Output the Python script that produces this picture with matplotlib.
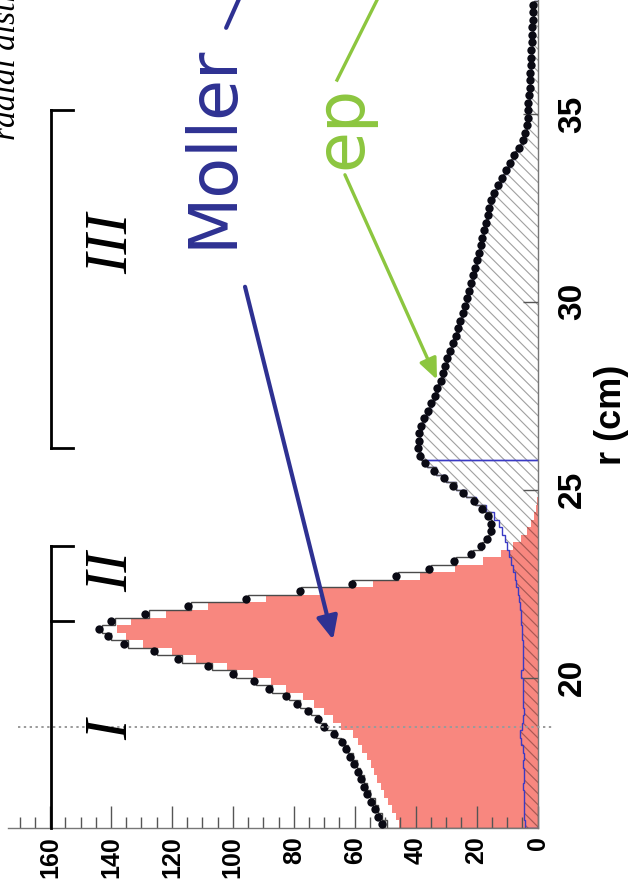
import matplotlib
matplotlib.use("Agg")
import matplotlib.pyplot as plt
import numpy as np
from matplotlib.ticker import MultipleLocator

# radial distribution, 0.2 cm bins from 16 to 38 cm
R_MIN, R_MAX, BIN_W = 16.0, 38.0, 0.2
R_SPLIT = 25.8  # inelastic / elastic ep boundary

data_counts = [
    51.0, 52.3, 53.5, 54.6, 55.9, 57.0, 58.0, 59.0, 60.2, 61.5,
    62.8, 64.3, 66.8, 70.0, 72.0, 75.2, 79.0, 82.5, 88.2, 93.1,
    100.1, 108.2, 117.9, 125.9, 135.7, 140.9, 143.8, 140.0, 128.8, 114.6,
    95.7, 77.8, 61.0, 46.3, 35.5, 27.3, 21.8, 18.6, 16.5, 15.3,
    15.2, 16.1, 18.2, 21.0, 24.5, 27.6, 30.6, 34.0, 37.0, 38.5,
    39.1, 39.0, 38.8, 38.1, 37.2, 36.0, 34.8, 33.8, 33.0, 31.8,
    30.9, 30.3, 29.6, 28.7, 27.8, 26.9, 26.1, 25.3, 24.5, 23.7,
    23.0, 22.4, 21.8, 21.1, 20.5, 19.9, 19.3, 18.7, 18.1, 17.6,
    17.0, 16.4, 15.8, 15.2, 14.2, 13.1, 11.6, 10.2, 9.0, 7.7,
    6.0, 4.8, 4.0, 3.5, 3.2, 3.0, 3.0, 2.8, 2.6, 2.5,
    2.3, 2.2, 2.1, 2.0, 1.9, 1.8, 1.7, 1.6, 1.5, 1.4,
]

# simulated Moller, bins below R_SPLIT
moller_counts = [
    45.3, 46.6, 47.8, 49.1, 50.4, 51.5, 52.6, 53.7, 54.8, 56.1,
    57.5, 59.0, 60.7, 64.5, 67.0, 70.0, 73.5, 77.0, 82.5, 87.5,
    93.5, 102.0, 112.0, 120.0, 129.5, 135.0, 138.0, 133.5, 122.0, 108.0,
    89.0, 71.0, 54.0, 38.5, 27.0, 18.0, 12.0, 8.2, 5.5, 3.6,
    2.2, 1.0, 0.5, 0.2, 0.0, 0.0, 0.0, 0.0, 0.0,
]

# simulated inelastic ep, bins below R_SPLIT
ep_inel_counts = [
    4.2, 4.3, 4.4, 4.3, 4.5, 4.6, 4.4, 4.5, 4.6, 4.5,
    4.7, 5.4, 5.6, 5.0, 4.6, 4.5, 4.6, 4.7, 4.6, 4.8,
    5.3, 4.9, 4.7, 4.8, 4.9, 5.0, 5.1, 5.3, 5.5, 5.8,
    6.1, 6.5, 7.0, 7.4, 8.0, 8.6, 9.3, 10.0, 10.8, 11.8,
    12.8, 14.2, 16.8, 20.2, 23.6, 26.8, 30.0, 33.4, 36.4,
]

# simulated elastic ep, bins above R_SPLIT
ep_el_counts = [
    38.2, 38.8, 38.7, 38.5, 37.8, 36.9, 35.7, 34.5, 33.5, 32.7,
    31.6, 30.7, 30.0, 29.3, 28.5, 27.6, 26.7, 25.9, 25.1, 24.3,
    23.5, 22.8, 22.2, 21.6, 20.9, 20.3, 19.7, 19.1, 18.5, 17.9,
    17.4, 16.8, 16.2, 15.6, 15.0, 14.0, 12.9, 11.4, 10.0, 8.8,
    7.5, 5.8, 4.6, 3.8, 3.3, 3.0, 2.8, 2.8, 2.6, 2.4,
    2.3, 2.1, 2.0, 1.9, 1.8, 1.7, 1.6, 1.5, 1.4, 1.3,
    1.2,
]

region_names = ["I", "II", "III"]
region_label_r = [18.62, 22.82, 31.56]
bracket_low = [16.0, 21.5, 23.5]   # regions I and II share one bracket
bracket_high = [26.1, 35.1]
cut_r = 18.7

PINK = "#F8877F"
NAVY = "#2E3192"
GREEN = "#8CC63F"
AXIS_GREY = "#555555"

W, H = 629, 890
plt.rcParams["hatch.linewidth"] = 0.8

edges = np.round(np.arange(R_MIN, R_MAX + BIN_W / 2, BIN_W), 2)
centers = 0.5 * (edges[:-1] + edges[1:])
n_inel = len(ep_inel_counts)
inel_edges = edges[: n_inel + 1]
el_edges = edges[n_inel:]

data = np.array(data_counts)
moller = np.array(moller_counts)
ep_inel = np.array(ep_inel_counts)
ep_el = np.array(ep_el_counts)
ep_all = np.concatenate([ep_inel, ep_el])
moller_all = np.concatenate([moller, np.zeros(len(ep_el))])
total = moller_all + ep_all

fig = plt.figure(figsize=(W / 100, H / 100), dpi=100)
ax_left, ax_right, ax_bottom = 8, 537.5, 828
R_TOP = 38.03
ax = fig.add_axes([ax_left / W, 1 - ax_bottom / H, (ax_right - ax_left) / W, ax_bottom / H])
ax.set_xlim(173.8, 0)
ax.set_ylim(R_MIN, R_TOP)

# Moller fill
ax.stairs(moller, inel_edges, orientation="horizontal", fill=True,
          facecolor=PINK, edgecolor=PINK, linewidth=0)

# ep contributions, grey hatch, darker where it lies over the Moller fill
for vals, e in ((ep_inel, inel_edges), (ep_el, el_edges)):
    ax.stairs(vals, e, orientation="horizontal", fill=True, facecolor="none",
              edgecolor="#a0a0a0", linewidth=0, hatch="\\\\\\")
ax.stairs(np.minimum(ep_inel, moller), inel_edges, orientation="horizontal", fill=True,
          facecolor="none", edgecolor="#b8504a", linewidth=0, hatch="\\\\\\")
for vals, e in ((ep_inel, inel_edges), (ep_el, el_edges)):
    ax.stairs(vals, e, orientation="horizontal", color="#3a3ac4", linewidth=1.0)

# simulation sum and data
ax.stairs(total, edges, orientation="horizontal", color="#4a4a4a", linewidth=1.0)
ax.plot(data, centers, "o", color="#0a0a14", markersize=6.0, markeredgewidth=0, zorder=5)

ax.plot([170.5, -5.1], [cut_r, cut_r], linestyle=(0, (1.2, 1.8)), color="#9a9a9a",
        linewidth=1.4, clip_on=False, zorder=6)

# region brackets
bx, tick_x = 159.6, 152.4
for seg in (bracket_low, bracket_high):
    ax.plot([bx, bx], [seg[0], seg[-1]], color="black", linewidth=2.0, clip_on=False, zorder=6)
    for r in seg:
        if r > R_MIN:
            ax.plot([bx, tick_x], [r, r], color="black", linewidth=2.0, zorder=6)
for name, r in zip(region_names, region_label_r):
    ax.text(139.6, r, name, rotation=90, ha="center", va="center", fontsize=44,
            family="Liberation Serif", style="italic", zorder=6)

# axes styling
for side in ("left", "top"):
    ax.spines[side].set_visible(False)
for side in ("bottom", "right"):
    ax.spines[side].set_color("#777777")
    ax.spines[side].set_linewidth(1.0)
ax.yaxis.tick_right()
ax.yaxis.set_label_position("right")
ax.xaxis.set_major_locator(MultipleLocator(20))
ax.xaxis.set_minor_locator(MultipleLocator(5))
ax.set_yticks([20, 25, 30, 35])
ax.tick_params(axis="x", which="major", direction="in", length=16, width=1.0,
               color=AXIS_GREY, pad=6, labelsize=18, labelrotation=90)
ax.tick_params(axis="x", which="minor", direction="in", length=8, width=1.0, color=AXIS_GREY)
ax.tick_params(axis="y", which="major", direction="in", length=11, width=1.0,
               color=AXIS_GREY, pad=14, labelsize=24, labelrotation=90)
for lab in ax.get_xticklabels() + ax.get_yticklabels():
    lab.set_family("Liberation Sans")
    lab.set_fontweight("bold")
for lab in ax.get_yticklabels():
    lab.set_va("center")
ax.set_ylabel("r (cm)", rotation=90, fontsize=26, family="Liberation Sans", fontweight="bold")
ax.yaxis.set_label_coords(1 + (594 - ax_right) / (ax_right - ax_left),
                          (27.0 - R_MIN) / (R_TOP - R_MIN))

# annotations
ax.text(106.8, 34.15, "Moller", rotation=90, ha="center", va="center", fontsize=48,
        family="DejaVu Sans", color=NAVY, zorder=7)
ax.plot([102.2, 95.0], [37.29, 38.6], color=NAVY, linewidth=3.0, clip_on=False,
        solid_capstyle="round", zorder=7)
ax.annotate("", xy=(67.1, 21.01), xytext=(96.0, 30.40),
            arrowprops=dict(arrowstyle="-|>,head_length=0.7,head_width=0.32",
                            mutation_scale=20, color=NAVY, lw=3.0, shrinkA=0, shrinkB=0),
            zorder=7)

ax.text(64.2, 34.63, "ep", rotation=90, ha="center", va="center", fontsize=48,
        family="DejaVu Sans", color=GREEN, zorder=7)
ax.plot([65.8, 51.0], [35.90, 38.3], color=GREEN, linewidth=2.4, clip_on=False, zorder=7)
ax.annotate("", xy=(33.0, 27.93), xytext=(63.2, 33.38),
            arrowprops=dict(arrowstyle="-|>,head_length=0.7,head_width=0.3",
                            mutation_scale=18, color=GREEN, lw=2.4, shrinkA=0, shrinkB=0),
            zorder=7)

fig.text(15 / W, 1 - 140 / H, "radial distribution", rotation=90, rotation_mode="anchor",
         ha="left", va="baseline", fontsize=24, family="Liberation Serif", style="italic")

fig.savefig("out.png", dpi=100)
